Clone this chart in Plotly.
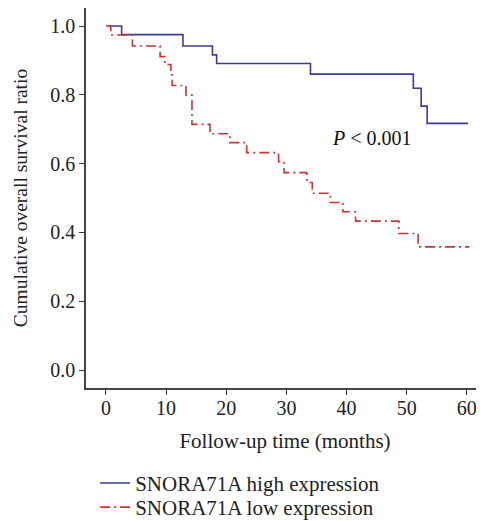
import plotly.graph_objects as go

# High expression group (time in months, survival ratio)
high_time = [0.5, 2.6, 12.8, 17.7, 18.4, 34.0, 51.1, 52.4, 53.4, 60.2]
high_surv = [1.0, 0.975, 0.942, 0.916, 0.891, 0.860, 0.819, 0.767, 0.717, 0.717]

# Low expression group
low_time = [0.0, 0.8, 4.4, 9.0, 9.8, 10.8, 11.0, 13.3, 14.3, 17.3, 20.6, 23.4,
            28.7, 29.6, 33.4, 34.3, 37.3, 39.4, 41.5, 48.7, 51.9, 60.4]
low_surv = [1.0, 0.974, 0.942, 0.911, 0.888, 0.858, 0.827, 0.799, 0.714, 0.687,
            0.661, 0.632, 0.606, 0.574, 0.545, 0.514, 0.487, 0.460, 0.433, 0.397,
            0.358, 0.358]

x_ticks = [0, 10, 20, 30, 40, 50, 60]
y_ticks = [0.0, 0.2, 0.4, 0.6, 0.8, 1.0]

FONT = "Liberation Serif"

fig = go.Figure()
fig.add_trace(go.Scatter(
    x=high_time, y=high_surv, mode="lines", line_shape="hv",
    line=dict(color="#3b3b9c", width=1.6),
    name="SNORA71A high expression", legend="legend"))
fig.add_trace(go.Scatter(
    x=low_time, y=low_surv, mode="lines", line_shape="hv",
    line=dict(color="#cc3333", width=1.6, dash="10px,4px,2px,4px"),
    name="SNORA71A low expression", legend="legend2"))

fig.add_annotation(x=44.2, y=0.674, xref="x", yref="y", showarrow=False,
                   text="<i>P</i> < 0.001",
                   font=dict(family=FONT, size=20, color="#111"))

legend_common = dict(x=0.023, xanchor="left", yanchor="top",
                     orientation="v", bgcolor="rgba(0,0,0,0)",
                     font=dict(family=FONT, size=21, color="#222"),
                     itemwidth=30)

# the page body adds an 8px offset, so the figure is sized to the visible area
fig.update_layout(
    width=476, height=513,
    margin=dict(l=78, r=0, t=0, b=133, autoexpand=False),
    paper_bgcolor="white", plot_bgcolor="white",
    font=dict(family=FONT, size=19, color="#222"),
    showlegend=True,
    legend=dict(y=-0.197, **legend_common),
    legend2=dict(y=-0.2605, **legend_common),
    xaxis=dict(range=[-3.32, 62.85], tickvals=x_ticks, automargin=False,
               ticks="outside", ticklen=5, tickcolor="#333",
               ticklabelstandoff=-4,
               showline=True, linecolor="#444", linewidth=1.5, mirror=True,
               showgrid=False, zeroline=False,
               tickfont=dict(family=FONT, size=20),
               title=dict(text="Follow-up time (months)",
                          font=dict(family=FONT, size=21), standoff=16)),
    yaxis=dict(range=[-0.052, 1.0523], tickvals=y_ticks, tickformat=".1f",
               automargin=False,
               ticks="outside", ticklen=5, tickcolor="#333",
               showline=True, linecolor="#444", linewidth=1.5, mirror=False,
               showgrid=False, zeroline=False,
               tickfont=dict(family=FONT, size=20),
               title=dict(text="Cumulative overall survival ratio",
                          font=dict(family=FONT, size=19.5), standoff=17)),
)

fig.write_html("out.html")
